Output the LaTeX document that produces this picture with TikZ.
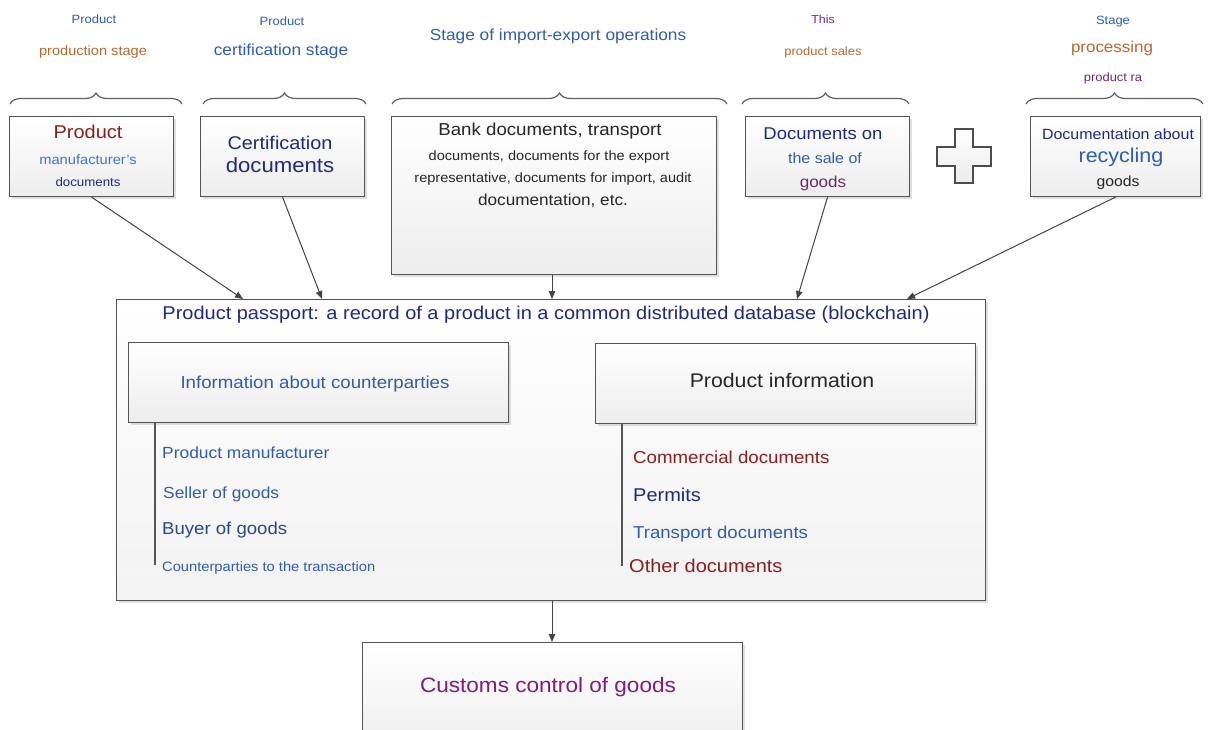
\documentclass[tikz,border=0pt]{standalone}
\usepackage{fontspec}
\setmainfont{Liberation Sans}[FakeStretch=1.08]
\usetikzlibrary{decorations.pathreplacing,shadows,arrows.meta}
\newcommand\fsz[1]{\fontsize{#1}{#1}\selectfont}
\definecolor{cblue}{HTML}{2F5DAA}
\definecolor{cblueL}{HTML}{3C78C8}
\definecolor{cnavy}{HTML}{1E2A80}
\definecolor{corange}{HTML}{B5672E}
\definecolor{cpurple}{HTML}{6B2A6B}
\definecolor{cdred}{HTML}{8B1E1E}
\definecolor{cmag}{HTML}{7D1C7D}
\definecolor{boxc}{HTML}{555555}
\definecolor{arrc}{HTML}{444444}
\begin{document}
\begin{tikzpicture}[x=1pt,y=-1pt,
  box/.style={draw=boxc, line width=1.1pt, top color=white, bottom color=gray!14,
    drop shadow={shadow xshift=2pt,shadow yshift=-2pt,opacity=.25,fill=gray},
    inner sep=0, anchor=north west},
  bigbox/.style={box, bottom color=gray!10},
  bracest/.style={decorate, decoration={brace, amplitude=11pt}, draw=gray!75!black, line width=1.2pt},
  t/.style={inner sep=0, text height=0.72em, text depth=0.2em, yshift=-4pt},
  arr/.style={draw=arrc, line width=1pt, -{Triangle[length=8pt,width=6.5pt]}},
  vline/.style={draw=boxc, line width=1.2pt}
]
\useasboundingbox (0,0) rectangle (1210,729);
\clip (0,0) rectangle (1210,729);

% braces
\draw[bracest] (10,104) -- (182,104);
\draw[bracest] (203,104) -- (366,104);
\draw[bracest] (392,104) -- (727,104);
\draw[bracest] (742,104) -- (909,104);
\draw[bracest] (1026,104) -- (1203,104);

% top labels
\node[t,font=\fsz{12},text=cblue] (l1a) at (94,17) {Product};
\node[t,font=\fsz{13.5},text=corange] (l1b) at (93,49) {production stage};
\node[t,font=\fsz{12},text=cblue] (l2a) at (282,19) {Product};
\node[t,font=\fsz{16},text=cblue] (l2b) at (281,49) {certification stage};
\node[t,font=\fsz{16},text=cblue] (l3a) at (558,34) {Stage of import-export operations};
\node[t,font=\fsz{11.5},text=cpurple] (l4a) at (823,17) {This};
\node[t,font=\fsz{12},text=corange] (l4b) at (823,49) {product sales};
\node[t,font=\fsz{12},text=cblue] (l5a) at (1113,18) {Stage};
\node[t,font=\fsz{15.7},text=corange] (l5b) at (1112,46) {processing};
\node[t,font=\fsz{12},text=cpurple] (l5c) at (1113,75) {product ra};

% top boxes
\node[box, minimum width=164, minimum height=80] (b1) at (9,116) {};
\node[box, minimum width=164, minimum height=80] (b2) at (200,116) {};
\node[box, minimum width=325, minimum height=158] (b3) at (391,116) {};
\node[box, minimum width=164, minimum height=80] (b4) at (745,116) {};
\node[box, minimum width=170, minimum height=80] (b5) at (1030,116) {};

% plus sign
\draw[draw=gray!60!black, line width=1.2pt, top color=white, bottom color=gray!15]
  (955,129) -- (973,129) -- (973,147) -- (991,147) -- (991,166) -- (973,166) --
  (973,183) -- (955,183) -- (955,166) -- (937,166) -- (937,147) -- (955,147) -- cycle;

% box texts
\node[t,font=\fsz{18.5},text=cdred] (b1a) at (88,132) {Product};
\node[t,font=\fsz{13.6},text=cblueL] (b1b) at (88,158) {manufacturer's};
\node[t,font=\fsz{12.3},text=cnavy] (b1c) at (88,180) {documents};

\node[t,font=\fsz{18.4},text=cnavy] (b2a) at (280,143) {Certification};
\node[t,font=\fsz{20.5},text=cnavy] (b2b) at (280,166) {documents};

\node[t,font=\fsz{17.3},text=black!85] (b3a) at (550,129) {Bank documents, transport};
\node[t,font=\fsz{13.5},text=black!85] (b3b) at (549,154) {documents, documents for the export};
\node[t,font=\fsz{13.5},text=black!85] (b3c) at (553,176) {representative, documents for import, audit};
\node[t,font=\fsz{15.9},text=black!85] (b3d) at (553,199) {documentation, etc.};

\node[t,font=\fsz{17.1},text=cnavy] (b4a) at (823,133) {Documents on};
\node[t,font=\fsz{14.8},text=cblue] (b4b) at (825,157) {the sale of};
\node[t,font=\fsz{15.8},text=cpurple] (b4c) at (823,181) {goods};

\node[t,font=\fsz{14.8},text=cnavy] (b5a) at (1118,133) {Documentation about};
\node[t,font=\fsz{19.9},text=cblue] (b5b) at (1121,156) {recycling};
\node[t,font=\fsz{14.6},text=black!85] (b5c) at (1118,180) {goods};

% passport
\node[bigbox, minimum width=869, minimum height=301] (pp) at (116,299) {};
\node[t,font=\fsz{18.5},text=cnavy] (ppt) at (546,313)
  {Product passport: a record of a product in a common distributed database (blockchain)};

\node[box, minimum width=380, minimum height=80] (ic) at (128,342) {};
\node[t,font=\fsz{17.3},text=cblue] (ict) at (315,382) {Information about counterparties};
\node[box, minimum width=380, minimum height=80] (pi) at (595,343) {};
\node[t,font=\fsz{19.7},text=black!85] (pit) at (782,381) {Product information};

\coordinate (lv) at (155,565);
\coordinate (rv) at (622,566);
\draw[vline] (ic.south west -| lv) -- (lv);
\draw[vline] (pi.south west -| rv) -- (rv);

\node[t,anchor=west,font=\fsz{16.1},text=cblue] (c1) at (162,452) {Product manufacturer};
\node[t,anchor=west,font=\fsz{16.1},text=cblue] (c2) at (163,492) {Seller of goods};
\node[t,anchor=west,font=\fsz{17.2},text=cblue!80!black] (c3) at (162,528) {Buyer of goods};
\node[t,anchor=west,font=\fsz{13.6},text=cblue] (c4) at (162,565) {Counterparties to the transaction};

\node[t,anchor=west,font=\fsz{17.3},text=cdred] (p1) at (633,457) {Commercial documents};
\node[t,anchor=west,font=\fsz{18.5},text=cnavy] (p2) at (633,495) {Permits};
\node[t,anchor=west,font=\fsz{17.2},text=cblue] (p3) at (633,532) {Transport documents};
\node[t,anchor=west,font=\fsz{18.5},text=cdred] (p4) at (629,566) {Other documents};

% customs
\node[box, minimum width=380, minimum height=110] (cu) at (362,642) {};
\node[t,font=\fsz{20.9},text=cmag] (cut) at (548,686) {Customs control of goods};

% arrows
\coordinate (in1) at (243,299);
\coordinate (in2) at (322,299);
\coordinate (in3) at (552,299);
\coordinate (in4) at (797,299);
\coordinate (in5) at (907,299);
\draw[arr] (b1.south) -- (in1);
\draw[arr] (b2.south) -- (in2);
\draw[arr] (b3.south -| in3) -- (in3);
\draw[arr] (b4.south) -- (in4);
\draw[arr] (b5.south) -- (in5);
\draw[arr] (pp.south -| in3) -- (cu.north -| in3);
\end{tikzpicture}
\end{document}
